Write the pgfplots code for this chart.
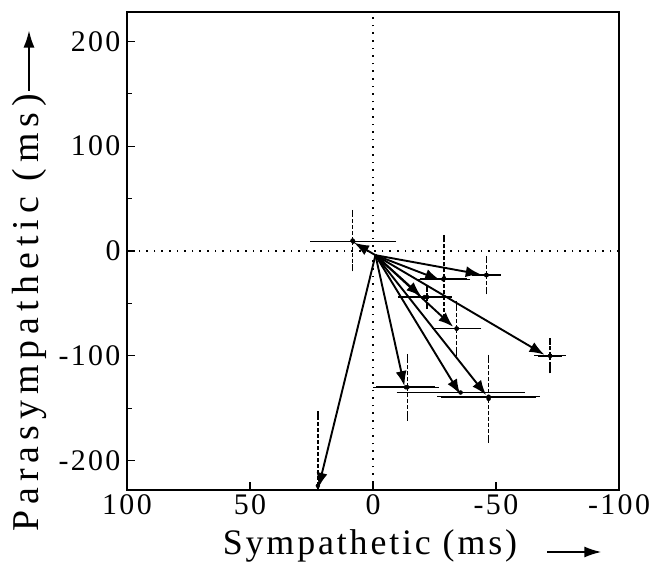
\documentclass[border=0pt]{standalone}
\usepackage{fontspec}
\setmainfont{Liberation Serif}
\newfontfamily\tickfont{Liberation Serif}[LetterSpace=8]
\newfontfamily\labfont{Liberation Serif}[LetterSpace=8]
\newfontfamily\ylabfont{Liberation Serif}[LetterSpace=16]
\usepackage{pgfplots}
\usepackage{pgfplotstable}
\pgfplotsset{compat=1.18}
\usetikzlibrary{arrows.meta,calc}

% arrow tips (x = sympathetic, y = parasympathetic)
\pgfplotstableread{
x y
7 7
-43 -22
-26.5 -27
-19 -42
-32 -71
-69 -98
-12.6 -127
-35 -135
-45.5 -136
22 -224
}\tips

% horizontal error bars
\pgfplotstableread{
x y ex
8 9 16
-46 -23 4.5
-28.6 -27 9.5
-21 -44 9.5
-34 -74 8.6
-72 -100 5
-13.4 -130 12
-35.6 -135 24.6
-47 -139 19.4
}\xerr

% vertical error bars
\pgfplotstableread{
x y ey
8.3 10 26
-46.2 -23 15
-28.9 -26 38
-22 -44 8
-34 -74 23
-72 -100 13.5
-14 -130 28.5
-47 -141 38.6
22.4 -224 68
}\yerr

\begin{document}
\begin{tikzpicture}
\begin{axis}[
  scale only axis,
  width=492bp, height=478bp,
  x dir=reverse,
  xmin=-100, xmax=100,
  ymin=-228, ymax=228,
  xtick={-100,-50,0,50,100},
  ytick={-200,-100,0,100,200},
  minor ytick={-150,-50,50,150},
  xtick pos=bottom, ytick pos=left,
  tick align=inside,
  major tick length=8bp, minor tick length=5bp,
  axis line style={line width=1.6bp},
  tick style={line width=1.2bp, black},
  /pgf/number format/assume math mode=true,
  ticklabel style={font=\tickfont\fontsize{30}{30}\selectfont},
  xticklabel style={yshift=-1bp},
  yticklabel style={xshift=-3bp},
  clip=true,
]
% reference lines
\addplot[black, line width=1.6bp, dash pattern=on 1.6bp off 6bp] coordinates {(0,-228) (0,228)};
\addplot[black, line width=1.6bp, dash pattern=on 1.6bp off 6bp] coordinates {(-100,0) (100,0)};

% arrows from origin
\pgfplotsinvokeforeach{0,...,9}{
  \pgfplotstablegetelem{#1}{x}\of\tips \let\tx\pgfplotsretval
  \pgfplotstablegetelem{#1}{y}\of\tips \let\ty\pgfplotsretval
  \edef\tmp{\noexpand\addplot[black, line width=1.9bp, -{Latex[length=15bp,width=11bp]}, shorten >=-2bp] coordinates {(-1,-4) (\tx,\ty)};}
  \tmp
}

% error bars
\addplot[black, only marks, mark=none,
  error bars/.cd, x dir=both, x explicit,
  error bar style={line width=1.7bp},
  error mark options={mark size=3.5bp, line width=1.3bp}]
  table[x=x, y=y, x error=ex] {\xerr};
\addplot[black, only marks, mark=none,
  error bars/.cd, y dir=both, y explicit,
  error bar style={line width=1.3bp, dash pattern=on 4bp off 2bp},
  error mark options={mark size=3.5bp, line width=1.3bp, solid}]
  table[x=x, y=y, y error=ey] {\yerr};
\end{axis}
% axis titles with their arrows
\node[font=\labfont\fontsize{36}{36}\selectfont, anchor=base, inner sep=0pt] (xl)
  at ($(current axis.south)+(-3bp,-64bp)$) {Sympathetic (ms)};
\draw[line width=1.6bp, -{Latex[length=17bp,width=11bp]}]
  ($(xl.base east)+(30bp,2bp)$) -- ++(54bp,0);
\node[font=\ylabfont\fontsize{38}{38}\selectfont, rotate=90, anchor=base west, inner sep=0pt] (yl)
  at ($(current axis.south west)+(-88bp,-42bp)$) {Parasympathetic (ms)};
\draw[line width=1.6bp, -{Latex[length=17bp,width=11bp]}]
  ($(yl.base east)+(-10bp,3bp)$) -- ++(0,60bp);
\pgfresetboundingbox
\path[use as bounding box] ($(current axis.south west)+(-127bp,-86bp)$) rectangle ($(current axis.north east)+(31bp,12bp)$);
\end{tikzpicture}
\end{document}
